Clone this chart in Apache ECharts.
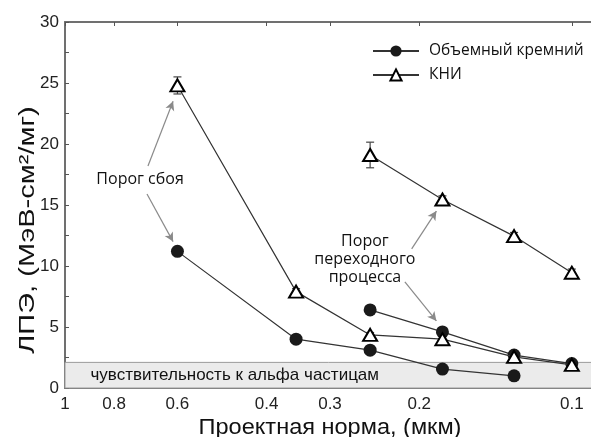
<!DOCTYPE html>
<html><head><meta charset="utf-8">
<script src="https://cdn.jsdelivr.net/npm/echarts@6/dist/echarts.min.js"></script>
<style>html,body{margin:0;padding:0;background:#fff}#c{width:591px;height:437px}</style>
</head><body><div id="c"></div>
<script>
// Process nodes (µm)
const bulkSEUx = [0.6, 0.35, 0.25, 0.18, 0.13];
const bulkSEU  = [11.2, 4.0, 3.1, 1.55, 1.0];
const bulkSETx = [0.25, 0.18, 0.13, 0.1];
const bulkSET  = [6.4, 4.6, 2.7, 2.0];
const soiSEUx  = [0.6, 0.35, 0.25, 0.18, 0.13, 0.1];
const soiSEU   = [24.8, 7.9, 4.35, 4.0, 2.55, 1.9];
const soiSEUerr= [0.7, 0.25, 0.2, 0.2, 0.2, 0.2];
const soiSETx  = [0.25, 0.18, 0.13, 0.1];
const soiSET   = [19.1, 15.45, 12.45, 9.45];
const soiSETerr= [1.05, 0.3, 0.3, 0.3];
const xTicks   = [1, 0.8, 0.6, 0.4, 0.3, 0.2, 0.1];
const alphaLevel = 2.1;
const seriesNames = ['Объемный кремний', 'КНИ'];
const alphaText = 'чувствительность к альфа частицам';
const noteSEU = 'Порог сбоя';
const noteSET = 'Порог\nпереходного\nпроцесса';
const xTitle = 'Проектная норма, (мкм)';
const yTitle = 'ЛПЭ, (МэВ-см²/мг)';

const zip = (xs, ys) => xs.map((x, i) => [x, ys[i]]);
const zip3 = (xs, ys, es) => xs.map((x, i) => [x, ys[i], es[i]]);

const chart = echarts.init(document.getElementById('c'), null, {renderer: 'canvas'});
const AX = '#707070';
const fmt = v => String(parseFloat((+v).toFixed(2)));

function renderErr(params, api) {
  const x = api.value(0), y = api.value(1), e = api.value(2);
  const hi = api.coord([x, y + e]), lo = api.coord([x, y - e]);
  const w = 4;
  const st = {stroke: '#444', lineWidth: 1.2};
  return {type: 'group', children: [
    {type: 'line', shape: {x1: hi[0], y1: hi[1], x2: lo[0], y2: lo[1]}, style: st},
    {type: 'line', shape: {x1: hi[0] - w, y1: hi[1], x2: hi[0] + w, y2: hi[1]}, style: st},
    {type: 'line', shape: {x1: lo[0] - w, y1: lo[1], x2: lo[0] + w, y2: lo[1]}, style: st}
  ]};
}

const xBase = {
  type: 'log', logBase: 10, min: 0.09, max: 1, inverse: true,
  axisLine: {show: true, onZero: false, lineStyle: {color: AX, width: 2}},
  splitLine: {show: false},
  minorTick: {show: false}
};
const yBase = {
  type: 'value', min: 0, max: 30, interval: 5,
  axisLine: {show: true, onZero: false, lineStyle: {color: AX, width: 2}},
  axisTick: {show: true, inside: true, length: 4, lineStyle: {color: '#555'}},
  minorTick: {show: true, splitNumber: 2, length: 4, lineStyle: {color: '#555'}},
  splitLine: {show: false}
};

const lineCommon = {
  type: 'line', xAxisIndex: 0, yAxisIndex: 0, animation: false,
  lineStyle: {color: '#333', width: 1.2}
};
const bulkStyle = {
  symbol: 'circle', symbolSize: 13,
  itemStyle: {color: '#1a1a1a', borderColor: '#1a1a1a', borderWidth: 0}
};
const soiStyle = {
  symbol: 'triangle', symbolSize: [14, 12],
  itemStyle: {color: '#fff', borderColor: '#000', borderWidth: 2}
};
const noteFont = {fontFamily: 'Open Sans', fontSize: 16, color: '#111'};

chart.setOption({
  backgroundColor: '#fff',
  animation: false,
  grid: {left: 65, top: 22, right: -4, bottom: 49, outerBoundsMode: 'none', containLabel: false},
  legend: {
    data: seriesNames, orient: 'vertical', left: 372, top: 43, padding: 0,
    itemWidth: 46, itemHeight: 14, itemGap: 8,
    textStyle: {fontFamily: 'Open Sans', fontSize: 15.5, color: '#111', padding: [0, 0, 0, 5]}
  },
  graphic: [
    {type: 'text', x: 330, y: 428, scaleX: 1.07, silent: true,
     style: {text: xTitle, font: '22px "Liberation Sans"', fill: '#111', align: 'center', verticalAlign: 'middle'}},
    {type: 'text', x: 28, y: 230, rotation: Math.PI / 2, scaleX: 1.32, silent: true,
     style: {text: yTitle, font: '22px "Liberation Sans"', fill: '#111', align: 'center', verticalAlign: 'middle'}}
  ],
  xAxis: [
    Object.assign({}, xBase, {
      position: 'bottom',
      axisTick: {show: true, inside: true, length: 4, customValues: xTicks, lineStyle: {color: '#555'}},
      axisLabel: {show: true, customValues: xTicks, formatter: fmt, fontSize: 17, color: '#222',
                  fontFamily: 'Liberation Sans', margin: 8}
    }),
    Object.assign({}, xBase, {
      position: 'top',
      axisTick: {show: true, inside: true, length: 4, customValues: xTicks, lineStyle: {color: '#555'}},
      axisLabel: {show: false}
    })
  ],
  yAxis: [
    Object.assign({}, yBase, {
      position: 'left',
      axisLabel: {show: true, fontSize: 17, color: '#222', fontFamily: 'Liberation Sans', margin: 6}
    }),
    Object.assign({}, yBase, {position: 'right', axisLabel: {show: false}})
  ],
  series: [
    Object.assign({}, lineCommon, bulkStyle, {
      name: seriesNames[0], data: zip(bulkSEUx, bulkSEU), z: 3,
      markArea: {
        silent: true,
        itemStyle: {color: '#ebebeb', borderColor: '#9a9a9a', borderWidth: 1},
        label: {show: true, position: 'insideLeft', distance: 26, fontFamily: 'Liberation Sans',
                fontSize: 17, color: '#111'},
        data: [[{name: alphaText, xAxis: 1, yAxis: 0}, {xAxis: 0.09, yAxis: alphaLevel}]]
      }
    }),
    Object.assign({}, lineCommon, bulkStyle, {
      name: seriesNames[0], data: zip(bulkSETx, bulkSET), z: 3
    }),
    {
      type: 'custom', name: 'err', xAxisIndex: 0, yAxisIndex: 0, z: 2, silent: true,
      renderItem: renderErr,
      data: zip3(soiSEUx, soiSEU, soiSEUerr).concat(zip3(soiSETx, soiSET, soiSETerr)),
      encode: {x: 0, y: 1}
    },
    Object.assign({}, lineCommon, soiStyle, {
      name: seriesNames[1], data: zip(soiSEUx, soiSEU), z: 4,
      markLine: {
        silent: true, symbol: ['none', 'arrow'], symbolSize: [7, 9],
        lineStyle: {color: '#8a8a8a', width: 1.2, type: 'solid'},
        label: {show: false},
        data: [
          [{coord: [0.686, 18.2]}, {coord: [0.612, 23.5]}],
          [{coord: [0.689, 15.9]}, {coord: [0.612, 12.0]}],
          [{coord: [0.207, 11.4]}, {coord: [0.185, 14.5]}],
          [{coord: [0.2135, 8.7]}, {coord: [0.185, 5.5]}]
        ]
      },
      markPoint: {
        silent: true, symbol: 'circle', symbolSize: 1,
        itemStyle: {color: 'rgba(0,0,0,0)', borderWidth: 0},
        label: Object.assign({show: true, position: 'inside', formatter: '{b}', lineHeight: 18, align: 'center'}, noteFont),
        data: [
          {name: noteSEU, coord: [0.711, 17.1]},
          {name: noteSET, coord: [0.256, 10.5]}
        ]
      }
    }),
    Object.assign({}, lineCommon, soiStyle, {
      name: seriesNames[1], data: zip(soiSETx, soiSET), z: 4
    })
  ]
});
</script>
</body></html>
